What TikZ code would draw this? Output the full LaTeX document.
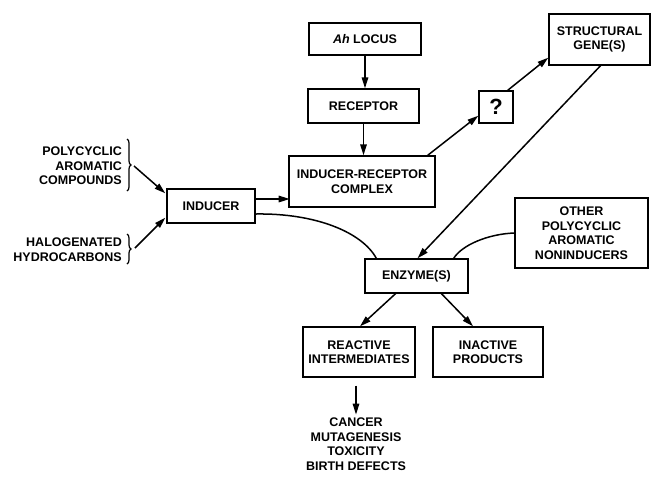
\documentclass[tikz,border=0pt]{standalone}
\usepackage{fontspec}
\setmainfont{Liberation Sans}
\usetikzlibrary{arrows.meta,calc,decorations.pathreplacing}
\begin{document}
\begin{tikzpicture}[x=1pt,y=-1pt,
  every node/.style={font=\fontsize{12.5}{14.5}\selectfont\bfseries},
  box/.style={draw,line width=1.4pt,align=center,inner sep=0pt},
  lbl/.style={align=right,inner sep=0pt},
  conn/.style={line width=1.5pt},
  arr/.style={conn,-{Triangle[length=11pt,width=6.5pt]}},
  brc/.style={line width=1.2pt,decorate,decoration={brace,amplitude=4pt}}]
\useasboundingbox (0,0) rectangle (652,477);
\node[box,minimum width=112pt,minimum height=32pt] (ah) at (365,39) {\textit{Ah} LOCUS};
\node[box,minimum width=111pt,minimum height=34pt] (rec) at (363.5,106) {RECEPTOR};
\node[box,minimum width=146pt,minimum height=51pt] (irc) at (362,181.5) {INDUCER-RECEPTOR\\COMPLEX};
\node[box,minimum width=34pt,minimum height=32pt,font=\fontsize{22}{24}\selectfont\bfseries] (q) at (496,107) {?};
\node[box,minimum width=101pt,minimum height=51pt] (sg) at (599.5,39.5) {STRUCTURAL\\GENE(S)};
\node[box,minimum width=133pt,minimum height=70pt] (oth) at (581.5,233) {OTHER\\POLYCYCLIC\\AROMATIC\\NONINDUCERS};
\node[box,minimum width=103pt,minimum height=34pt] (enz) at (416.5,276) {ENZYME(S)};
\node[box,minimum width=112pt,minimum height=50pt] (ri) at (359,352) {REACTIVE\\INTERMEDIATES};
\node[box,minimum width=110pt,minimum height=50pt] (ip) at (488,352) {INACTIVE\\PRODUCTS};
\node[box,minimum width=88pt,minimum height=34pt] (ind) at (211,206) {INDUCER};
\node[align=center,inner sep=0pt] (out) at (356,444) {CANCER\\MUTAGENESIS\\TOXICITY\\BIRTH DEFECTS};
\node[lbl,anchor=east] (pac) at (122,166) {POLYCYCLIC\\AROMATIC\\COMPOUNDS};
\node[lbl,anchor=east] (hh) at (122,249.5) {HALOGENATED\\HYDROCARBONS};
% braces
\draw[brc] (127,139) -- (127,191);
\draw[brc] (127,234) -- (127,264);
\coordinate (b1) at (134,166);
\coordinate (b2) at (135,248);
\draw[arr] (b1) -- ($(ind.north west)+(-1,5)$);
\draw[arr] (b2) -- ($(ind.south west)+(-1,-6)$);
% main flow
\draw[arr] (ah) -- (ah.south |- rec.north);
\draw[arr] (rec) -- (rec.south |- irc.north);
\draw[arr] ($(ind.east)+(0,-7)$) -- ($(ind.east)+(34,-7)$);
\draw[arr] ($(irc.north east)+(-8,0)$) -- ($(q.south west)+(0,-8)$);
\draw[arr] ($(q.north east)+(-6,0)$) -- ($(sg.south west)+(0,-8)$);
\draw[arr] ($(sg.south)+(1,0)$) -- ($(enz.north)+(1,0)$);
\draw[conn] ($(ind.east)+(0,8)$) .. controls (315,213) and (362,232) .. ($(enz.north west)+(12,0)$);
\draw[conn] (oth.west) .. controls (488,234) and (462,245) .. ($(enz.north east)+(-15,0)$);
\draw[arr] ($(enz.south)+(-21,0)$) -- ($(ri.north)+(1,0)$);
\draw[arr] ($(enz.south)+(25,0)$) -- ($(ip.north)+(-15,0)$);
\draw[arr] ($(ri.south)+(-3,8)$) -- ($(out.north)+(0,-3)$);
\end{tikzpicture}
\end{document}
